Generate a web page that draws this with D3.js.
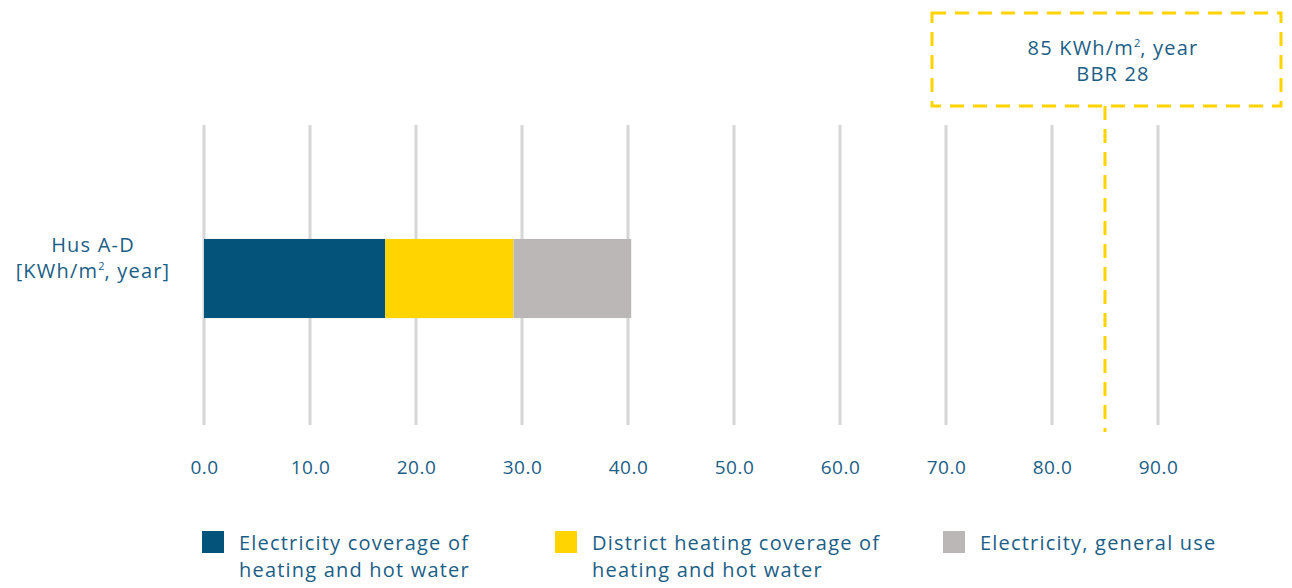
<!DOCTYPE html>
<meta charset="utf-8">
<script src="https://d3js.org/d3.v7.min.js"></script>
<style>
  body { margin: 0; background: #fff; }
  text { font-family: "Open Sans", sans-serif; fill: #1b5e86; letter-spacing: 1.2px; }
</style>
<div id="my_dataviz"></div>
<script>

// data
var categories = ["Hus A-D"];
var seriesNames = ["Electricity coverage of heating and hot water",
                   "District heating coverage of heating and hot water",
                   "Electricity, general use"];
var elHeating = [17.1];
var districtHeating = [12.1];
var elGeneral = [11.1];
var ticks = [0, 10, 20, 30, 40, 50, 60, 70, 80, 90];
var target = 85;
var targetLabel = ["85 KWh/m\u00b2, year", "BBR 28"];
var categoryLabel = ["Hus A-D", "[KWh/m\u00b2, year]"];
var legendLines = [["Electricity coverage of", "heating and hot water"],
                   ["District heating coverage of", "heating and hot water"],
                   ["Electricity, general use"]];

var colors = ["#03537a", "#ffd400", "#bbb7b6"];

var W = 1292, H = 588;
var svg = d3.select("#my_dataviz").append("svg")
    .attr("width", W).attr("height", H);

var x = d3.scaleLinear().domain([0, 100]).range([204, 1264]);
var y = d3.scaleBand().domain(categories).range([200, 357]).padding(0.33);

// writes a line into a text element, with a small superscript 2
function writeLine(sel, str, xPos, yPos) {
  var parts = str.split("\u00b2");
  parts.forEach(function(p, i) {
    var t = sel.append("tspan").text(p);
    if (i == 0) t.attr("x", xPos).attr("y", yPos);
    else t.attr("dy", 8);
    if (i < parts.length - 1) {
      sel.append("tspan").text("2")
        .style("font-size", "11px")
        .style("letter-spacing", "0px")
        .attr("dy", -8);
    }
  });
}

// grid lines
svg.append("g").selectAll("line")
  .data(ticks)
  .enter().append("line")
    .attr("x1", function(d) { return x(d); })
    .attr("x2", function(d) { return x(d); })
    .attr("y1", 125).attr("y2", 425)
    .attr("stroke", "#d6d6d6")
    .attr("stroke-width", 3);

// axis labels
var xAxis = svg.append("g")
  .attr("transform", "translate(0,457)")
  .call(d3.axisBottom(x).tickValues(ticks).tickSize(0).tickFormat(d3.format(".1f")));
xAxis.select(".domain").remove();
xAxis.selectAll("text")
  .style("font-size", "19px")
  .style("font-family", "'Open Sans', sans-serif")
  .style("letter-spacing", "0.5px")
  .attr("fill", "#1b5e86");

// stack
var rows = categories.map(function(c, i) {
  return {cat: c, s0: elHeating[i], s1: districtHeating[i], s2: elGeneral[i]};
});
var stacked = d3.stack().keys(["s0", "s1", "s2"])(rows);

svg.append("g").selectAll("g")
  .data(stacked)
  .enter().append("g")
    .attr("fill", function(d, i) { return colors[i]; })
  .selectAll("rect")
  .data(function(d) { return d; })
  .enter().append("rect")
    .attr("x", function(d) { return x(d[0]); })
    .attr("width", function(d) { return x(d[1]) - x(d[0]); })
    .attr("y", function(d) { return y(d.data.cat); })
    .attr("height", y.bandwidth());

// category label
categoryLabel.forEach(function(l, i) {
  var t = svg.append("text")
    .attr("text-anchor", "middle")
    .style("font-size", "20px");
  writeLine(t, l, 93, 252 + i * 26);
});

// target line + box
svg.append("line")
  .attr("x1", x(target)).attr("x2", x(target))
  .attr("y1", 106).attr("y2", 432)
  .attr("stroke", "#ffd400").attr("stroke-width", 3)
  .attr("stroke-dasharray", "14,9");

svg.append("rect")
  .attr("x", 932).attr("y", 13)
  .attr("width", 349).attr("height", 93)
  .attr("fill", "none")
  .attr("stroke", "#ffd400").attr("stroke-width", 3)
  .attr("stroke-dasharray", "14,9");

targetLabel.forEach(function(l, i) {
  var t = svg.append("text")
    .attr("text-anchor", "middle")
    .style("font-size", "20px");
  writeLine(t, l, 1113, 55 + i * 26);
});

// legend
var legendX = [202, 555, 943];
var leg = svg.append("g").selectAll("g")
  .data(legendLines)
  .enter().append("g")
    .attr("transform", function(d, i) { return "translate(" + legendX[i] + ",531)"; });
leg.append("rect")
  .attr("width", 22).attr("height", 22)
  .attr("fill", function(d, i) { return colors[i]; });
leg.append("text")
  .style("font-size", "20px")
  .selectAll("tspan")
  .data(function(d) { return d; })
  .enter().append("tspan")
    .attr("x", 37)
    .attr("y", function(d, i) { return 19 + i * 27; })
    .text(function(d) { return d; });

</script>
